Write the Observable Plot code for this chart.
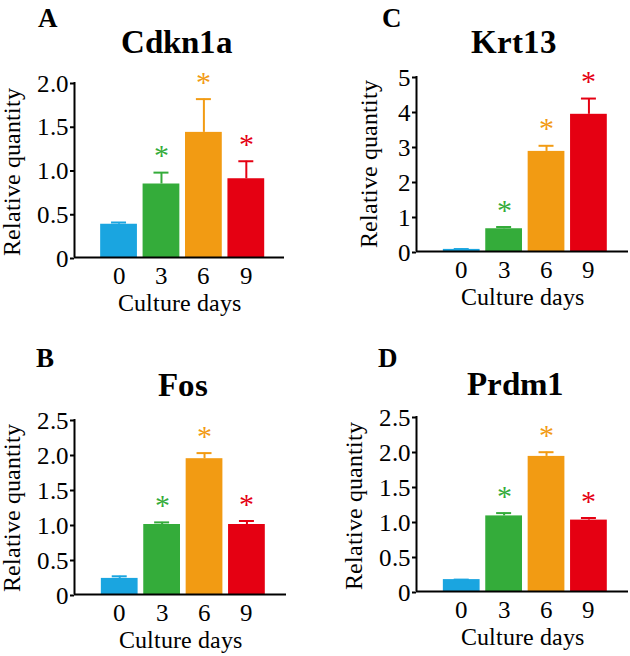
<!DOCTYPE html>
<html>
<head>
<meta charset="utf-8">
<script src="https://cdn.jsdelivr.net/npm/d3@7"></script>
<script src="https://cdn.jsdelivr.net/npm/@observablehq/plot@0.6"></script>
<style>
  @font-face { font-family: "ChartSerif"; font-weight: 400; font-style: normal;
    src: local("Liberation Serif"), local("LiberationSerif"), local("Liberation Serif Regular"); }
  @font-face { font-family: "ChartSerif"; font-weight: 700; font-style: normal;
    src: local("Liberation Serif Bold"), local("LiberationSerif-Bold"); }
  html, body { margin: 0; padding: 0; background: #fff; font-family: "ChartSerif", "Liberation Serif", serif; }
  #root { position: relative; width: 630px; height: 656px; overflow: hidden; }
  .panel { position: absolute; }
  .panel svg text { font-family: "ChartSerif", "Liberation Serif", serif; }
  .ylab { position: absolute; font-family: "ChartSerif", "Liberation Serif", serif; font-size: 24px; line-height: 1;
          white-space: nowrap; transform: translate(-50%, -50%) rotate(-90deg); color: #000; }
  .letter { position: absolute; font-family: "ChartSerif", "Liberation Serif", serif; font-weight: bold; font-size: 27px;
            line-height: 1; color: #000; }
</style>
</head>
<body>
<div id="root"></div>
<script>
// ---- data ----
const days = [0, 3, 6, 9];
const colors = ["#1AA5E0", "#34AC3A", "#F29B13", "#E50012"];
const significant = [false, true, true, true];

const cdkn1aMean = [0.38, 0.84, 1.43, 0.90];
const cdkn1aUpper = [0.40, 0.97, 1.81, 1.10];

const krt13Mean = [0.06, 0.65, 2.86, 3.92];
const krt13Upper = [0.07, 0.70, 3.02, 4.37];

const fosMean = [0.23, 1.00, 1.94, 1.00];
const fosUpper = [0.26, 1.03, 2.02, 1.05];

const prdm1Mean = [0.17, 1.08, 1.93, 1.02];
const prdm1Upper = [0.17, 1.12, 1.99, 1.05];

const ticksHalf = [0, 0.5, 1.0, 1.5, 2.0];
const ticksHalf25 = [0, 0.5, 1.0, 1.5, 2.0, 2.5];
const ticksInt = [0, 1, 2, 3, 4, 5];

const FONT = "ChartSerif, Liberation Serif, serif";
const BAR_HALF = 1.3;   // half bar width in day units
const CAP_HALF = 0.53;  // half error-cap width in day units

const root = document.getElementById("root");

function panel(cfg) {
  const data = days.map((d, i) => ({
    day: d, mean: cfg.mean[i], upper: cfg.upper[i], color: colors[i], sig: significant[i]
  }));
  const intTicks = cfg.intTicks;
  const svg = Plot.plot({
    width: cfg.width,
    height: cfg.height,
    marginLeft: cfg.ml,
    marginRight: cfg.mr,
    marginTop: cfg.mt,
    marginBottom: cfg.mb,
    style: {fontFamily: FONT, background: "white", overflow: "visible"},
    x: {domain: cfg.xdomain, axis: null},
    y: {domain: cfg.ydomain, axis: null},
    marks: [
      Plot.rectY(data, {
        x1: d => d.day - BAR_HALF, x2: d => d.day + BAR_HALF,
        y1: 0, y2: "mean", fill: "color"
      }),
      Plot.ruleX(data, {x: "day", y1: "mean", y2: "upper", stroke: "color", strokeWidth: 2}),
      Plot.ruleY(data, {
        y: "upper", x1: d => d.day - CAP_HALF, x2: d => d.day + CAP_HALF,
        stroke: "color", strokeWidth: 2
      }),
      Plot.text(data.filter(d => d.sig), {
        x: "day", y: "upper", text: () => "*", fill: "color",
        fontSize: 30, fontFamily: FONT, lineAnchor: "middle", dy: -16
      }),
      Plot.ruleY([0], {stroke: "black", strokeWidth: 2}),
      Plot.ruleX([cfg.xdomain[0]], {stroke: "black", strokeWidth: 2}),
      Plot.axisY({
        ticks: cfg.yticks,
        tickFormat: d => d === 0 ? "0" : (intTicks ? String(d) : d.toFixed(1)),
        tickSize: 4, tickPadding: 2, strokeWidth: 2, fontSize: 25, fontFamily: FONT,
        label: null, dy: 1
      }),
      Plot.axisX({
        ticks: days, tickFormat: d => String(d),
        tickSize: 0, tickPadding: 9, fontSize: 25, fontFamily: FONT, label: null
      }),
      Plot.text(["Culture days"], {
        frameAnchor: "bottom", text: d => d, fontSize: 24, fontFamily: FONT,
        lineAnchor: "bottom", dy: 53
      }),
      Plot.text([cfg.title], {
        frameAnchor: "top-left", text: d => d, fontSize: 33, fontWeight: "bold",
        fontFamily: FONT, textAnchor: "middle", lineAnchor: "bottom",
        dx: cfg.titleDx, dy: cfg.titleDy
      })
    ]
  });
  const div = document.createElement("div");
  div.className = "panel";
  div.style.left = cfg.left + "px";
  div.style.top = cfg.top + "px";
  div.appendChild(svg);
  root.appendChild(div);

  const yl = document.createElement("div");
  yl.className = "ylab";
  yl.textContent = "Relative quantity";
  yl.style.left = cfg.ylabX + "px";
  yl.style.top = cfg.ylabY + "px";
  root.appendChild(yl);

  const lt = document.createElement("div");
  lt.className = "letter";
  lt.textContent = cfg.letter;
  lt.style.left = cfg.letterX + "px";
  lt.style.top = cfg.letterY + "px";
  root.appendChild(lt);
}

panel({
  left: 0, top: 0, width: 315, height: 320,
  ml: 74, mr: 31, mt: 82, mb: 63,
  xdomain: [-3.15, 11.7], ydomain: [0, 2], yticks: ticksHalf, intTicks: false,
  mean: cdkn1aMean, upper: cdkn1aUpper,
  title: "Cdkn1a", titleDx: 102, titleDy: -30,
  letter: "A", letterX: 38, letterY: 4.5, ylabX: 12, ylabY: 171.5
});
panel({
  left: 315, top: 0, width: 315, height: 320,
  ml: 101, mr: 2, mt: 76, mb: 69,
  xdomain: [-3.2, 11.8], ydomain: [0, 5], yticks: ticksInt, intTicks: true,
  mean: krt13Mean, upper: krt13Upper,
  title: "Krt13", titleDx: 97, titleDy: -24,
  letter: "C", letterX: 382, letterY: 4.5, ylabX: 368.5, ylabY: 164
});
panel({
  left: 0, top: 320, width: 315, height: 336,
  ml: 74, mr: 29, mt: 99, mb: 62,
  xdomain: [-3.2, 11.8], ydomain: [0, 2.5], yticks: ticksHalf25, intTicks: false,
  mean: fosMean, upper: fosUpper,
  title: "Fos", titleDx: 108, titleDy: -24,
  letter: "B", letterX: 36, letterY: 344.5, ylabX: 12, ylabY: 508
});
panel({
  left: 315, top: 320, width: 315, height: 336,
  ml: 101, mr: 2, mt: 96, mb: 65,
  xdomain: [-3.2, 11.8], ydomain: [0, 2.5], yticks: ticksHalf25, intTicks: false,
  mean: prdm1Mean, upper: prdm1Upper,
  title: "Prdm1", titleDx: 99, titleDy: -22,
  letter: "D", letterX: 378, letterY: 344.5, ylabX: 354, ylabY: 505.5
});
</script>
</body>
</html>
